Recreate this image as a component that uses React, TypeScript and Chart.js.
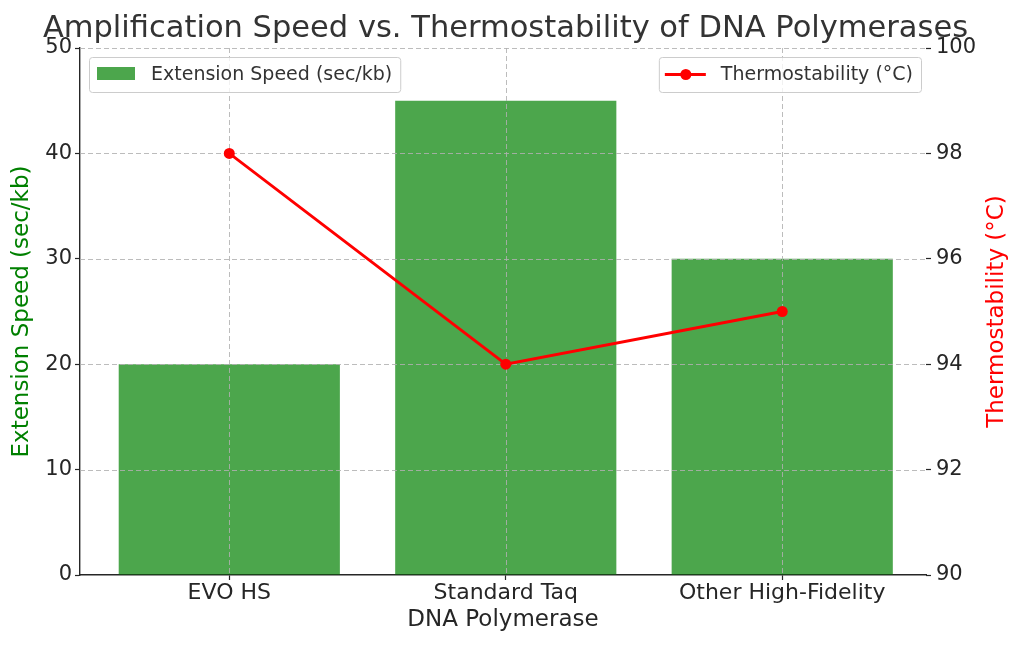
import { useEffect, useRef } from 'react'
import { Chart, registerables } from 'chart.js'

Chart.register(...registerables)

const categories = ['EVO HS', 'Standard Taq', 'Other High-Fidelity']
const speedValues = [20, 45, 30]
const thermoValues = [98, 94, 95]
const speedTicks = [0, 10, 20, 30, 40, 50]
const thermoTicks = [90, 92, 94, 96, 98, 100]

const FONT = "'DejaVu Sans', sans-serif"
const BAR = 'rgba(0, 128, 0, 0.7)'
const INK = '#262626'
const GRID = 'rgba(176, 176, 176, 0.85)'
const TITLE = 'Amplification Speed vs. Thermostability of DNA Polymerases'

// dashed grid over the bars but under the line, then title, legends and right axis title
const overlay = {
  id: 'overlay',
  afterDatasetDraw(chart: any, args: any) {
    if (args.index !== 0) return
    const { ctx, chartArea: a, scales } = chart
    ctx.save()
    ctx.strokeStyle = GRID
    ctx.lineWidth = 1
    ctx.setLineDash([5, 3])
    scales.y.ticks.forEach((t: any) => {
      if (t.value === 0) return
      const y = Math.round(scales.y.getPixelForValue(t.value)) + 0.5
      ctx.beginPath()
      ctx.moveTo(a.left, y)
      ctx.lineTo(a.right, y)
      ctx.stroke()
    })
    scales.x.ticks.forEach((t: any) => {
      const x = Math.round(scales.x.getPixelForValue(t.value)) + 0.5
      ctx.beginPath()
      ctx.moveTo(x, a.top)
      ctx.lineTo(x, a.bottom)
      ctx.stroke()
    })
    ctx.restore()
  },
  afterDraw(chart: any) {
    const { ctx, chartArea: a } = chart
    ctx.save()

    ctx.font = `30.5px ${FONT}`
    ctx.textAlign = 'center'
    ctx.textBaseline = 'alphabetic'
    ctx.fillStyle = '#333333'
    ctx.fillText(TITLE, 505.5, 37)

    ctx.textAlign = 'left'
    ctx.font = `19px ${FONT}`
    ctx.textBaseline = 'middle'

    const box = (x: number, w: number) => {
      ctx.beginPath()
      ctx.roundRect(x + 0.5, 57.5, w, 35, 3)
      ctx.fillStyle = 'rgba(255,255,255,0.8)'
      ctx.fill()
      ctx.strokeStyle = '#cccccc'
      ctx.lineWidth = 1
      ctx.stroke()
    }

    const t1 = 'Extension Speed (sec/kb)'
    const w1 = ctx.measureText(t1).width
    box(89, 62 + w1 + 8)
    ctx.fillStyle = BAR
    ctx.fillRect(97, 67, 38, 13)
    ctx.fillStyle = '#333333'
    ctx.fillText(t1, 151, 75)

    const t2 = 'Thermostability (°C)'
    const w2 = ctx.measureText(t2).width
    const left2 = 921 - (62 + w2 + 8)
    box(left2, 62 + w2 + 8)
    ctx.strokeStyle = 'red'
    ctx.lineWidth = 2.8
    ctx.beginPath()
    ctx.moveTo(left2 + 6, 74.5)
    ctx.lineTo(left2 + 47, 74.5)
    ctx.stroke()
    ctx.fillStyle = 'red'
    ctx.beginPath()
    ctx.arc(left2 + 27, 74.5, 5.5, 0, Math.PI * 2)
    ctx.fill()
    ctx.fillStyle = '#333333'
    ctx.fillText(t2, left2 + 62, 75)

    // right axis title, reading bottom to top like the left one
    ctx.translate(997, (a.top + a.bottom) / 2)
    ctx.rotate(-Math.PI / 2)
    ctx.font = `23px ${FONT}`
    ctx.textAlign = 'center'
    ctx.fillStyle = 'red'
    ctx.fillText('Thermostability (°C)', 0, 0)
    ctx.restore()
  },
}

export default function App() {
  const ref = useRef<HTMLCanvasElement>(null)

  useEffect(() => {
    document.body.style.margin = '0'
    if (!ref.current) return
    Chart.defaults.font.family = FONT

    const chart = new Chart(ref.current, {
      type: 'bar',
      data: {
        datasets: [
          {
            type: 'bar',
            label: 'Extension Speed (sec/kb)',
            data: speedValues.map((v, i) => ({ x: i, y: v })),
            backgroundColor: BAR,
            categoryPercentage: 0.8,
            barPercentage: 1,
            yAxisID: 'y',
            order: 1,
          },
          {
            type: 'line',
            label: 'Thermostability (°C)',
            data: thermoValues.map((v, i) => ({ x: i, y: v })),
            borderColor: 'red',
            backgroundColor: 'red',
            borderWidth: 2.8,
            pointRadius: 5.5,
            pointBorderWidth: 0,
            pointBackgroundColor: 'red',
            yAxisID: 'y1',
            order: 0,
          },
        ] as any,
      },
      options: {
        animation: false,
        responsive: true,
        maintainAspectRatio: false,
        layout: { padding: { top: 48 } },
        plugins: {
          legend: { display: false },
          tooltip: { enabled: false },
          title: { display: false },
        },
        scales: {
          x: {
            type: 'linear',
            offset: false,
            min: -0.54,
            max: 2.52,
            afterBuildTicks: (s: any) => {
              s.ticks = categories.map((_, i) => ({ value: i }))
            },
            afterFit: (s: any) => {
              s.height = 74
            },
            ticks: {
              color: INK,
              font: { size: 22 },
              padding: 0,
              callback: (_v: any, i: number) => categories[i],
            },
            grid: { offset: false, drawOnChartArea: false, tickLength: 5, tickColor: INK, tickWidth: 1.2 },
            border: { display: true, color: INK, width: 1.4 },
            title: {
              display: true,
              text: 'DNA Polymerase',
              color: INK,
              font: { size: 23 },
              padding: { top: 0, bottom: 15 },
            },
          },
          y: {
            position: 'left',
            min: 0,
            max: 50,
            afterBuildTicks: (s: any) => {
              s.ticks = speedTicks.map((v) => ({ value: v }))
            },
            afterFit: (s: any) => {
              s.width = 80
            },
            ticks: { color: INK, font: { size: 21 }, padding: 3 },
            grid: { drawOnChartArea: false, tickLength: 5, tickColor: INK, tickWidth: 1.2 },
            border: { display: true, color: INK, width: 1.4 },
            title: {
              display: true,
              text: 'Extension Speed (sec/kb)',
              color: 'green',
              font: { size: 23 },
              padding: { top: 8, bottom: 0 },
            },
          },
          y1: {
            position: 'right',
            min: 90,
            max: 100,
            afterBuildTicks: (s: any) => {
              s.ticks = thermoTicks.map((v) => ({ value: v }))
            },
            afterFit: (s: any) => {
              s.width = 98
            },
            ticks: { color: INK, font: { size: 21 }, padding: 5 },
            grid: { drawOnChartArea: false, tickLength: 5, tickColor: INK, tickWidth: 1.2 },
            border: { display: false },
          },
        },
      },
      plugins: [overlay],
    })
    return () => chart.destroy()
  }, [])

  return (
    <div style={{ position: 'relative', width: 1024, height: 649 }}>
      <canvas
        ref={ref}
        role="img"
        aria-label={`Bar and line chart: extension speed ${speedValues.join(', ')} sec/kb, thermostability ${thermoValues.join(', ')} °C`}
      />
    </div>
  )
}
